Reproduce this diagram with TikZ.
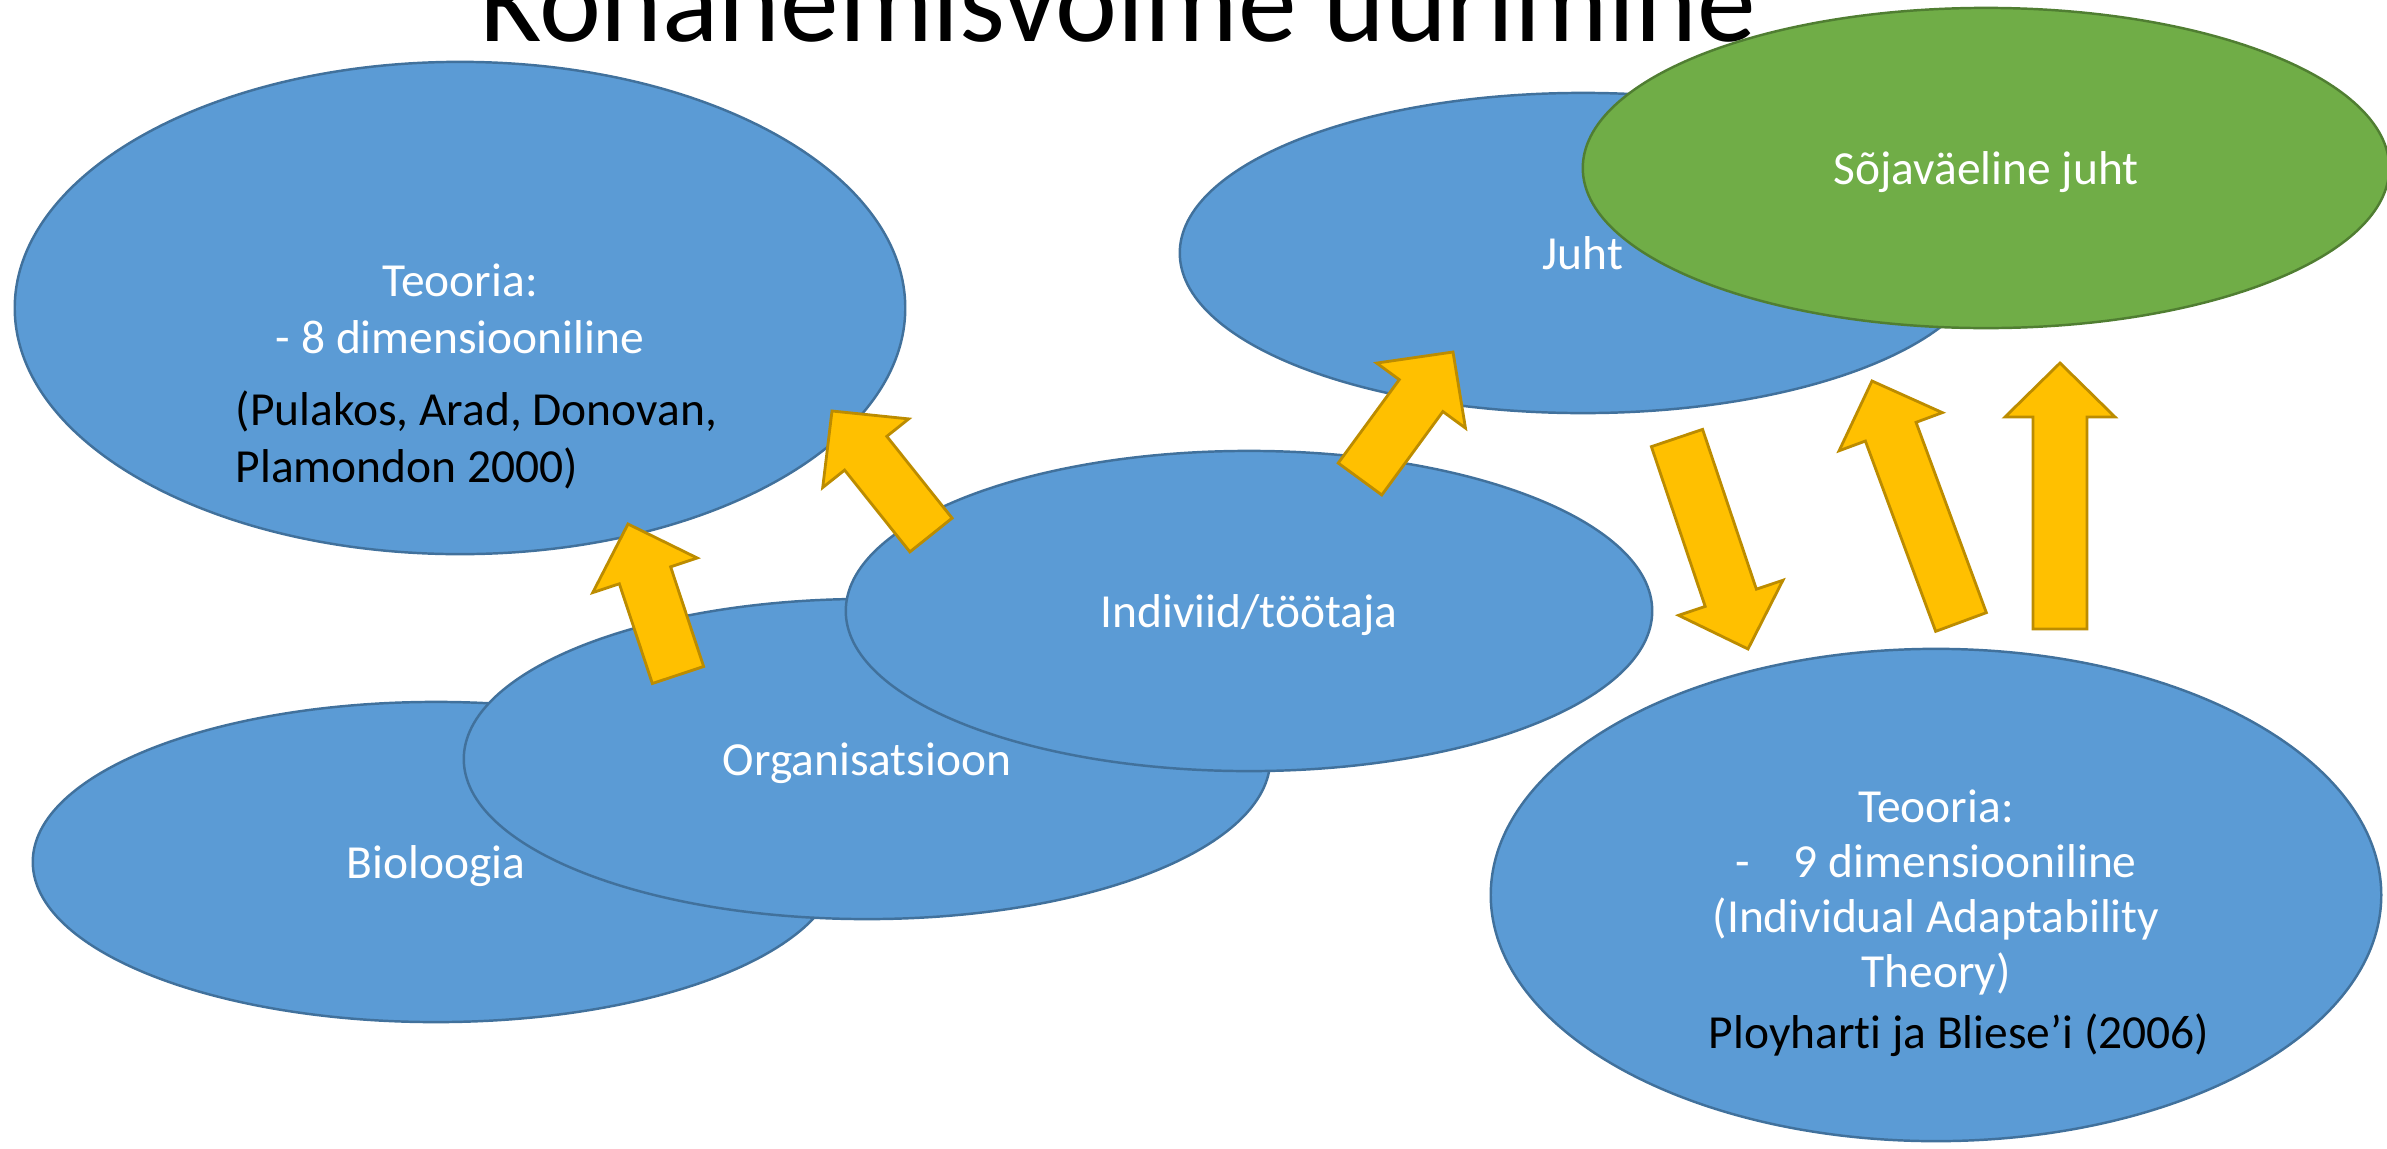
\documentclass[tikz,border=0pt]{standalone}
\usepackage{fontspec}
\setmainfont[Ligatures=NoCommon]{Carlito}
\usepackage{tikz}
\usetikzlibrary{shapes.geometric,calc}

\definecolor{elblue}{HTML}{5B9BD5}
\definecolor{elbluedark}{HTML}{41719C}
\definecolor{elgreen}{HTML}{70AD47}
\definecolor{elgreendark}{HTML}{507E32}
\definecolor{arrgold}{HTML}{FFC000}
\definecolor{arrgolddark}{HTML}{BC8C00}

\newcommand{\blockarrow}[2]{%
    \coordinate (hb) at ($(#2)!0.54cm!(#1)$);
    \draw[goldarrow] ($(#1)!0.27cm!90:(#2)$) -- ($(hb)!0.27cm!90:(#2)$) -- ($(hb)!0.55cm!90:(#2)$) -- (#2)
        -- ($(hb)!0.55cm!-90:(#2)$) -- ($(hb)!0.27cm!-90:(#2)$) -- ($(#1)!0.27cm!-90:(#2)$) -- cycle;
}

\begin{document}
\begin{tikzpicture}[x=0.01cm, y=-0.01cm,
    bubble/.style={ellipse, draw=elbluedark, fill=elblue, line width=0.7pt, inner sep=0pt,
        text=white, font=\fontsize{13.5}{16}\selectfont, text height=0.47cm, text depth=0.15cm},
    smallell/.style={minimum width=8.06cm, minimum height=3.2cm},
    bigell/.style={minimum width=8.9cm, minimum height=4.92cm},
    greenbubble/.style={bubble, smallell, draw=elgreendark, fill=elgreen},
    wtxt/.style={inner sep=0pt, text=white, font=\fontsize{13.5}{16}\selectfont},
    btxt/.style={inner sep=0pt, text=black, font=\fontsize{13.5}{16}\selectfont},
    goldarrow/.style={draw=arrgolddark, fill=arrgold, line width=0.8pt, line join=miter}]
    \useasboundingbox (0,0) rectangle (2387,1148);

    \node[anchor=base, inner sep=0pt, font=\fontsize{33.4}{40}\selectfont] (ttl) at (1118,41) {Kohanemisvõime uurimine};

    \node[bubble, smallell] (bio) at (436,862) {Bioloogia};
    \node[bubble, smallell] (org) at (867,759) {Organisatsioon};
    \node[bubble, smallell] (indiv) at (1249,611) {Indiviid/töötaja};
    \node[bubble, bigell] (teo1) at (460,308) {};
    \node[bubble, smallell] (juht) at (1583,253) {Juht};
    \node[greenbubble] (sojuht) at (1986,168) {Sõjaväeline juht};
    \node[bubble, bigell] (teo2) at (1936,895) {};

    \node[wtxt, anchor=base] (t1a) at (460,296) {Teooria:};
    \node[wtxt, anchor=base] (t1b) at (460,353) {- 8 dimensiooniline};
    \node[btxt, anchor=base west] (t1c) at (235,425) {(Pulakos, Arad, Donovan,};
    \node[btxt, anchor=base west] (t1d) at (235,482) {Plamondon 2000)};

    \node[wtxt, anchor=base] (t2a) at (1936,822) {Teooria:};
    \node[wtxt, anchor=base] (t2b) at (1936,877) {-\hspace{0.93em}9 dimensiooniline};
    \node[wtxt, anchor=base] (t2c) at (1936,932) {(Individual Adaptability};
    \node[wtxt, anchor=base] (t2d) at (1936,987) {Theory)};
    \node[btxt, anchor=base] (t2e) at (1959,1048) {Ployharti ja Bliese’i (2006)};

    \coordinate (a1s) at (678,675);  \coordinate (a1e) at (628,524);
    \coordinate (a2s) at (931,535);  \coordinate (a2e) at (832,411);
    \coordinate (a3s) at (1360,479); \coordinate (a3e) at (1453,352);
    \coordinate (a4s) at (1677,438); \coordinate (a4e) at (1748,649);
    \coordinate (a5s) at (1961,622); \coordinate (a5e) at (1872,381);
    \coordinate (a6s) at (2060,629); \coordinate (a6e) at (2060,363);

    \blockarrow{a1s}{a1e}
    \blockarrow{a2s}{a2e}
    \blockarrow{a3s}{a3e}
    \blockarrow{a4s}{a4e}
    \blockarrow{a5s}{a5e}
    \blockarrow{a6s}{a6e}
\end{tikzpicture}
\end{document}
